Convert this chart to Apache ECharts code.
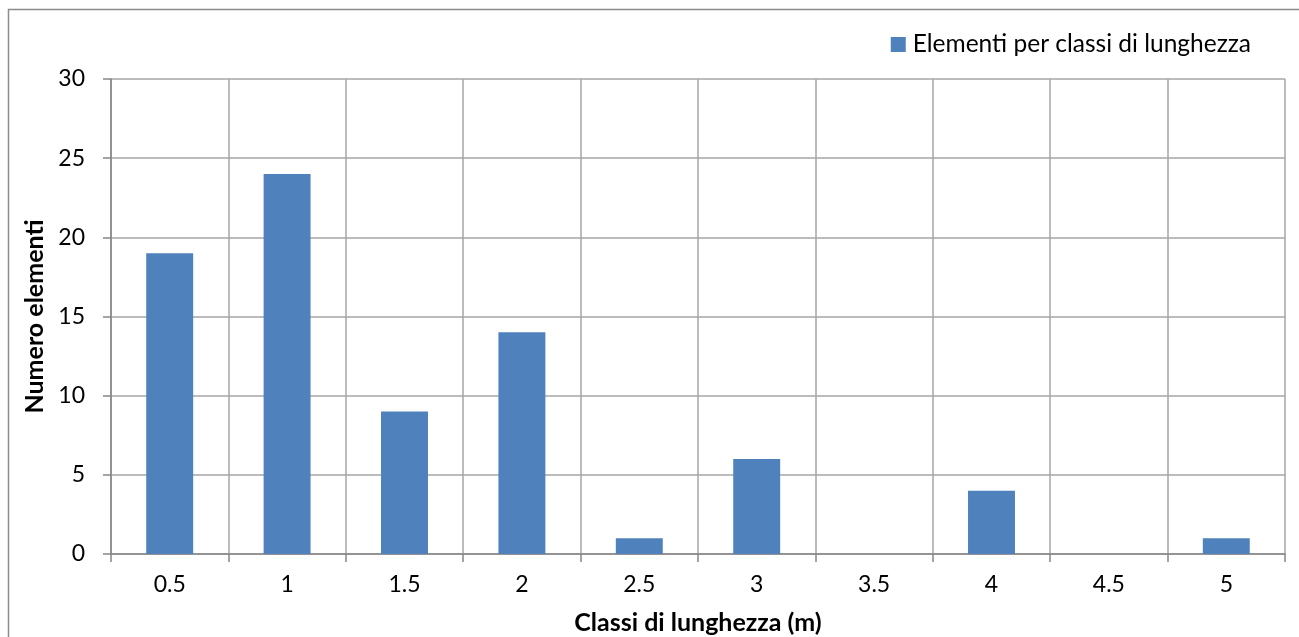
<!DOCTYPE html>
<html>
<head>
<meta charset="utf-8">
<script src="https://cdn.jsdelivr.net/npm/echarts@6/dist/echarts.min.js"></script>
<style>
  html, body { margin: 0; padding: 0; background: #fff; }
  #chart { width: 1299px; height: 637px; }
</style>
</head>
<body>
<div id="chart"></div>
<script>
// Length classes (m) and number of elements per class
const categories = ['0.5', '1', '1.5', '2', '2.5', '3', '3.5', '4', '4.5', '5'];
const counts = [19, 24, 9, 14, 1, 6, 0, 4, 0, 1];
const yTicks = { min: 0, max: 30, interval: 5 };

const FONT = 'Lato';
const FS = 23;
const AXIS_GREY = '#868686';
const GRID_GREY = '#a6a6a6';

const chart = echarts.init(document.getElementById('chart'), null, { renderer: 'canvas' });

chart.setOption({
  backgroundColor: '#ffffff',
  animation: false,
  textStyle: { fontFamily: FONT },
  graphic: [{
    type: 'rect',
    shape: { x: 8.5, y: 9.5, width: 1400, height: 700 },
    style: { fill: 'none', stroke: '#8c8c8c', lineWidth: 1.5 },
    silent: true
  }],
  legend: {
    right: 43,
    top: 27,
    itemWidth: 15,
    itemHeight: 15,
    itemGap: 6,
    icon: 'rect',
    textStyle: { fontSize: 24.5, color: '#000', fontFamily: FONT, padding: [0, 0, 0, 2] },
    data: ['Elementi per classi di lunghezza']
  },
  grid: {
    left: 111,
    right: 14,
    top: 79,
    bottom: 83,
    containLabel: false,
    outerBoundsMode: 'none'
  },
  xAxis: {
    type: 'category',
    data: categories,
    name: 'Classi di lunghezza (m)',
    nameLocation: 'middle',
    nameGap: 56,
    nameTextStyle: { fontSize: 25, fontWeight: 'bold', color: '#000', fontFamily: FONT },
    axisLine: { show: true, lineStyle: { color: AXIS_GREY, width: 1.5 } },
    axisTick: { show: true, length: 8, alignWithLabel: false, lineStyle: { color: AXIS_GREY, width: 1.5 } },
    axisLabel: { fontSize: FS, color: '#000', margin: 19, fontFamily: FONT },
    splitLine: { show: true, lineStyle: { color: GRID_GREY, width: 1.5 } }
  },
  yAxis: {
    type: 'value',
    min: yTicks.min,
    max: yTicks.max,
    interval: yTicks.interval,
    name: 'Numero elementi',
    nameLocation: 'middle',
    nameGap: 63,
    nameRotate: 90,
    nameTextStyle: { fontSize: 25, fontWeight: 'bold', color: '#000', fontFamily: FONT },
    axisLine: { show: true, lineStyle: { color: AXIS_GREY, width: 1.5 } },
    axisTick: { show: true, length: 8, inside: false, lineStyle: { color: AXIS_GREY, width: 1.5 } },
    axisLabel: { fontSize: FS, color: '#000', margin: 26, fontFamily: FONT },
    splitLine: { show: true, lineStyle: { color: GRID_GREY, width: 1.5 } }
  },
  series: [{
    name: 'Elementi per classi di lunghezza',
    type: 'bar',
    data: counts,
    barWidth: '40%',
    itemStyle: { color: '#4f81bd' }
  }]
});
</script>
</body>
</html>
